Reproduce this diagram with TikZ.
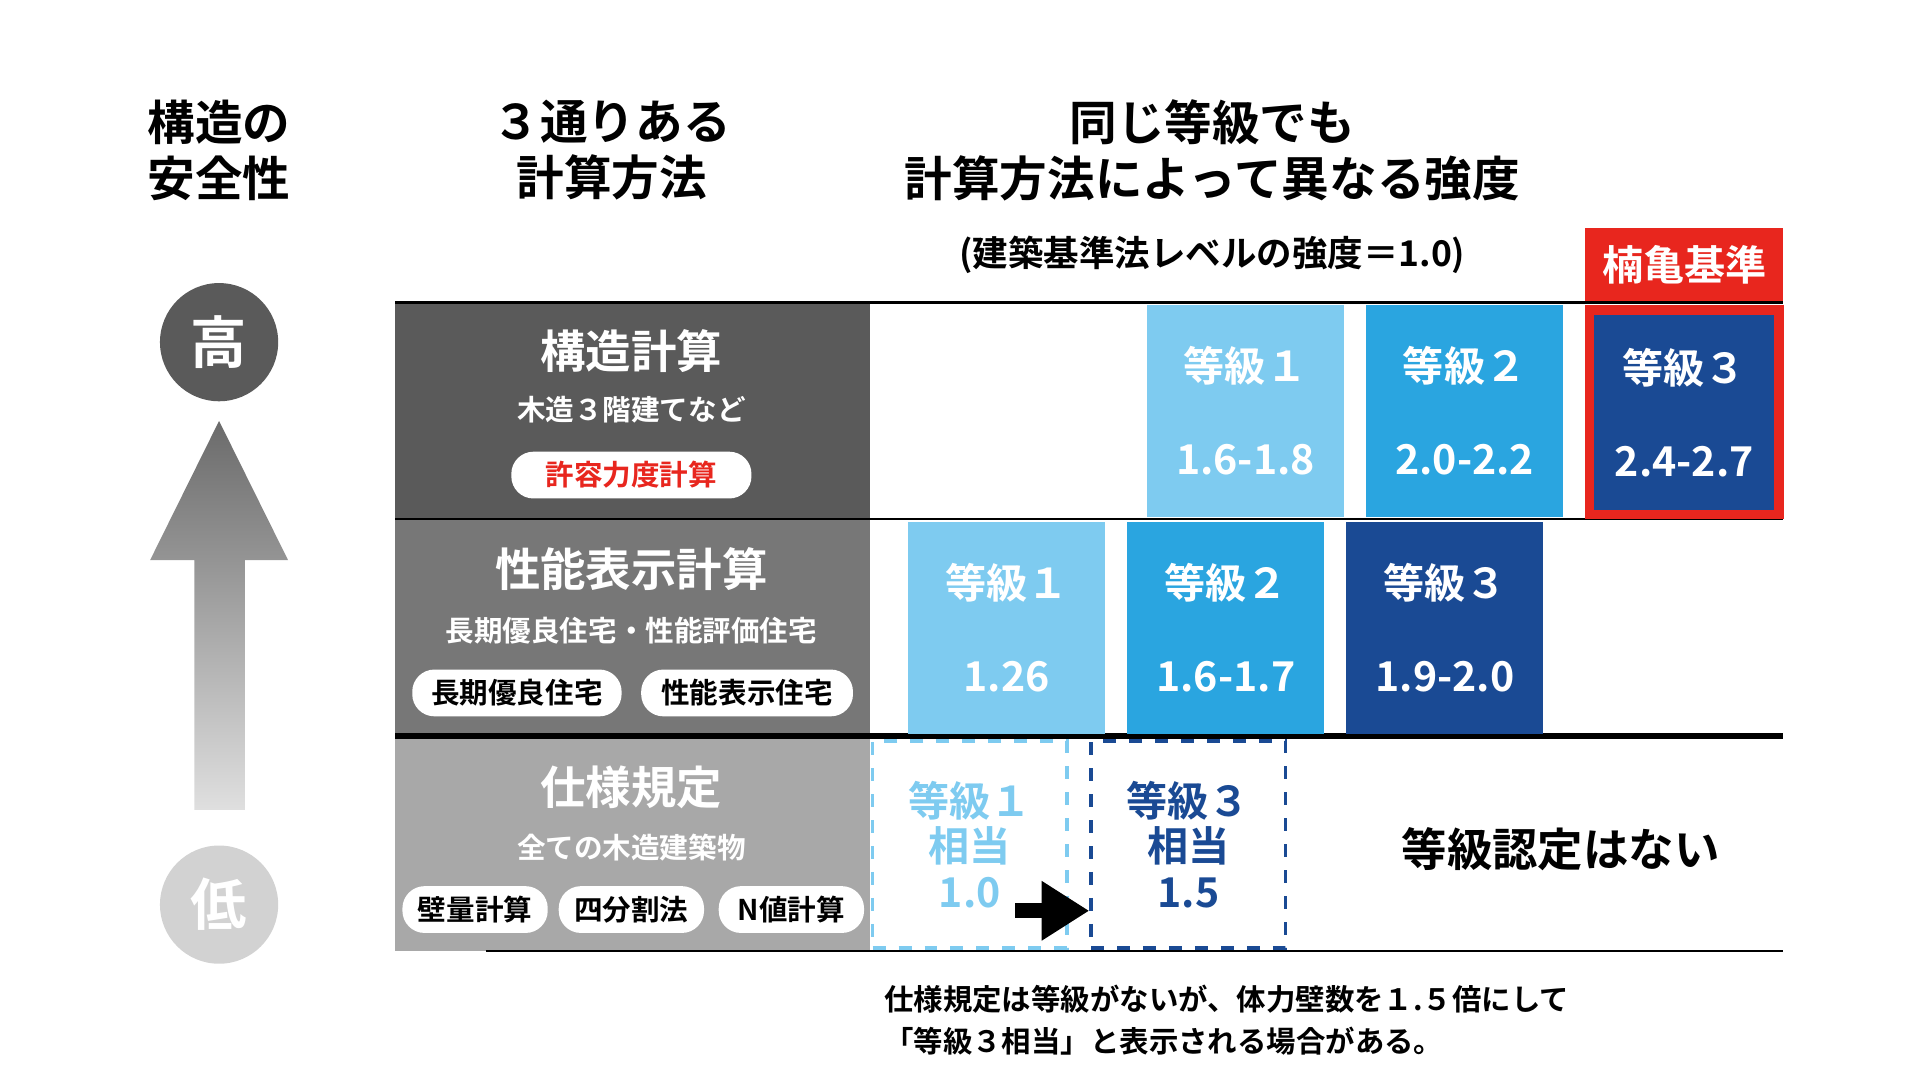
\documentclass[tikz,border=0pt]{standalone}
\usepackage{fontspec}
\setmainfont{Noto Sans CJK JP}[BoldFont={* Bold}]
\usetikzlibrary{positioning,arrows.meta}
\definecolor{dgray}{HTML}{5A5A5A}
\definecolor{mgray}{HTML}{777777}
\definecolor{lgray}{HTML}{A8A8A8}
\definecolor{lblue}{HTML}{7ECBF0}
\definecolor{mblue}{HTML}{2AA5E0}
\definecolor{dblue}{HTML}{1A4A94}
\definecolor{kred}{HTML}{E8261E}
\newcommand{\fs}[1]{\fontsize{#1}{#1}\selectfont\bfseries}
\begin{document}
\begin{tikzpicture}[x=0.01cm, y=-0.01cm,
  gradebox/.style={minimum width=1.6cm, minimum height=1.72cm, inner sep=0pt, text=white, align=center, font=\fs{9.5}},
  pill/.style={fill=white, rounded corners=1.8mm, minimum height=0.38cm, inner sep=0pt, font=\fs{6.6}},
  dashbox/.style={draw, dashed, thick, minimum width=1.58cm, minimum height=1.68cm, inner sep=0pt, align=center, font=\fs{9.5}},
  head/.style={align=center, font=\fs{11}},
  sub/.style={text=white, font=\fs{6.6}},
  title/.style={text=white, font=\fs{10.5}}]

\useasboundingbox (0,0) rectangle (1560,878);

% headings
\node[head] (hsafe) at (178,122) {構造の\\[2pt]安全性};
\node[head] (hcalc) at (497,122) {３通りある\\[2pt]計算方法};
\node[head] (hgrade) at (985,122) {同じ等級でも\\[2pt]計算方法によって異なる強度};
\node[font=\fs{8.2}] (hnote) at (985,207) {(建築基準法レベルの強度＝1.0)};
\node[fill=kred, text=white, minimum width=1.61cm, minimum height=0.6cm, inner sep=0pt, font=\fs{9.5}] (kusu) at (1368.5,215) {楠亀基準};

% left arrow
\shade[top color=dgray!90, bottom color=gray!25] (158,658) -- (158,455) -- (122,455) -- (178,342) -- (234,455) -- (199,455) -- (199,658) -- cycle;
\node[circle, fill=dgray, minimum size=0.96cm, inner sep=0pt, text=white, font=\fs{13}] (high) at (178,278) {高};
\node[circle, fill=gray!35, minimum size=0.96cm, inner sep=0pt, text=white, font=\fs{13}] (low) at (178,735) {低};

% panels
\fill[dgray] (321,246) rectangle (707,422);
\fill[mgray] (321,422) rectangle (707,598);
\fill[lgray] (321,598) rectangle (707,773);

% rules
\draw[line width=0.7pt] (321,246) -- (1449,246);
\draw[line width=0.5pt] (321,422) -- (1449,422);
\draw[line width=1.6pt] (321,598) -- (1449,598);
\draw[line width=0.5pt] (395,773) -- (1449,773);

% row 1
\node[title] (struct) at (513,285) {構造計算};
\node[sub] (struct3) at (513,333) {木造３階建てなど};
\node[pill, minimum width=1.95cm, text=kred] (allow) at (513,386) {許容力度計算};
\node[gradebox, fill=lblue] (a1) at (1012,334) {等級１\\[12pt]1.6-1.8};
\node[gradebox, fill=mblue] (a2) at (1190,334) {等級２\\[12pt]2.0-2.2};
\node[gradebox, fill=dblue, draw=kred, line width=2.2pt, minimum width=1.54cm, minimum height=1.66cm] (a3) at (1368.5,335) {等級３\\[12pt]2.4-2.7};

% row 2
\node[title] (perf) at (513,462) {性能表示計算};
\node[sub] (perfsub) at (513,512) {長期優良住宅・性能評価住宅};
\node[pill, minimum width=1.7cm] (long) at (420,563) {長期優良住宅};
\node[pill, minimum width=1.72cm] (disp) at (607,563) {性能表示住宅};
\node[gradebox, fill=lblue] (b1) at (818,510) {等級１\\[12pt]1.26};
\node[gradebox, fill=mblue] (b2) at (996,510) {等級２\\[12pt]1.6-1.7};
\node[gradebox, fill=dblue] (b3) at (1174,510) {等級３\\[12pt]1.9-2.0};

% row 3
\node[title] (spec) at (513,640) {仕様規定};
\node[sub] (specsub) at (513,689) {全ての木造建築物};
\node[pill, minimum width=1.18cm] (wall) at (386,739) {壁量計算};
\node[pill, minimum width=1.18cm] (quad) at (513,739) {四分割法};
\node[pill, minimum width=1.18cm] (nval) at (643,739) {N値計算};
\node[dashbox, draw=lblue, text=lblue] (c1) at (788,686) {等級１\\[1pt]相当\\[1pt]1.0};
\node[dashbox, draw=dblue, text=dblue] (c3) at (965.5,686) {等級３\\[1pt]相当\\[1pt]1.5};
\coordinate (arrs) at (825,740);
\draw[-{Triangle[length=11pt,width=13pt]}, line width=3.5pt] (arrs) -- (c3.west |- arrs);
\node[font=\fs{10.5}] (none) at (1268,690) {等級認定はない};

% footnote
\node[anchor=west, align=left, font=\fs{6.8}] (foot) at (706,829) {仕様規定は等級がないが、体力壁数を１.５倍にして\\[3pt]「等級３相当」と表示される場合がある。};
\end{tikzpicture}
\end{document}
